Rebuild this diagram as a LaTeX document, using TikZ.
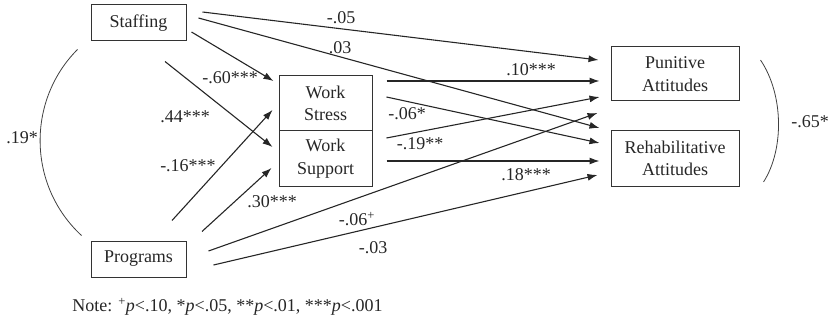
\documentclass[tikz,border=0pt]{standalone}
\usepackage{fontspec}
\setmainfont{Liberation Serif}
\usetikzlibrary{arrows.meta,calc}
\begin{document}
\begin{tikzpicture}[x=1pt,y=-1pt,
  txt/.style={font=\fontsize{18}{22.5}\selectfont,text=black!85},
  box/.style={txt,draw=black!80,line width=1pt,inner sep=0pt,align=center},
  path/.style={draw=black!85,line width=1.1pt,-{Latex[length=10pt,width=7pt]}},
  corr/.style={draw=black!75,line width=0.8pt},
  lbl/.style={txt,inner sep=0pt}]
\useasboundingbox (0,0) rectangle (834,323);

% variables
\node[box,minimum width=95pt,minimum height=36pt] (staff) at (138.5,23) {Staffing};
\node[box,minimum width=95pt,minimum height=36pt] (prog) at (138.5,259) {Programs};
\node[box,minimum width=93pt,minimum height=55pt] (stress) at (325.5,103.5) {Work\\Stress};
\node[box,minimum width=93pt,minimum height=55pt] (support) at (325.5,158.5) {Work\\Support};
\node[box,minimum width=128pt,minimum height=54pt] (pun) at (675,74) {Punitive\\Attitudes};
\node[box,minimum width=128pt,minimum height=55pt] (reh) at (675,158.5) {Rehabilitative\\Attitudes};

% paths from Staffing
\draw[path] ($(staff.east)+(16,-11)$) -- ($(pun.west)+(-12,-14)$);
\draw[path] ($(staff.east)+(12,-5)$) -- ($(reh.west)+(-11,-30.5)$);
\draw[path] ($(staff.east)+(5,9)$) -- ($(stress.west)+(-5,-22.5)$);
\draw[path] ($(staff.south)+(26.5,20)$) -- ($(support.west)+(-6,-11.5)$);

% paths from Programs
\draw[path] ($(prog.north)+(33.5,-20)$) -- ($(stress.west)+(-6,6.5)$);
\draw[path] ($(prog.north)+(63.5,-9)$) -- ($(support.west)+(-7,9.5)$);
\draw[path] ($(prog.east)+(22,-8)$) -- ($(pun.west)+(-13,39)$);
\draw[path] ($(prog.east)+(27,6)$) -- ($(reh.west)+(-13,16.5)$);

% paths from the work variables
\draw[path] ($(stress.east)+(14,-22.5)$) -- ($(pun.west)+(-11,7)$);
\draw[path] ($(stress.east)+(14,-6.5)$) -- ($(reh.west)+(-11,-15.5)$);
\draw[path] ($(support.east)+(14,-20.5)$) -- ($(pun.west)+(-11,23)$);
\draw[path] ($(support.east)+(14,2.5)$) -- ($(reh.west)+(-11,2.5)$);

% correlations
\draw[corr] ($(staff.south west)+(-13,8)$) .. controls (27,100) and (27,185) .. ($(prog.north west)+(-9,-5)$);
\draw[corr] ($(pun.east)+(21,-14)$) .. controls (784,95) and (784,150) .. ($(reh.east)+(24,23.5)$);

% coefficients
\node[lbl] (c1) at (341,18) {-.05};
\node[lbl] (c2) at (340,48) {.03};
\node[lbl] (c3) at (230,78) {-.60***};
\node[lbl] (c4) at (185,117) {.44***};
\node[lbl] (c5) at (188,166) {-.16***};
\node[lbl] (c6) at (272,202) {.30***};
\node[lbl] (c7) at (531,70) {.10***};
\node[lbl] (c8) at (407,114) {-.06*};
\node[lbl] (c9) at (420,144) {-.19**};
\node[lbl] (c10) at (526,175) {.18***};
\node[lbl] (c11) at (357,219) {-.06\textsuperscript{+}};
\node[lbl] (c12) at (373,248) {-.03};
\node[lbl] (c13) at (22,138) {.19*};
\node[lbl] (c14) at (810,122) {-.65*};

% note
\node[lbl] (note) at (227.5,307) {Note: \textsuperscript{+}\textit{p}<.10, *\textit{p}<.05, **\textit{p}<.01, ***\textit{p}<.001};
\end{tikzpicture}
\end{document}
